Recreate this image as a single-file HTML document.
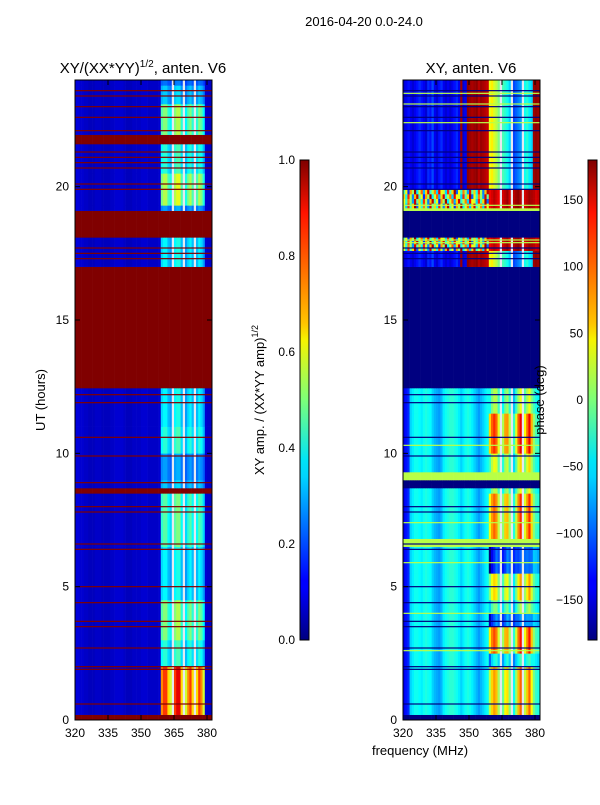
<!DOCTYPE html>
<html><head><meta charset="utf-8">
<style>
body{margin:0;background:#fff;}
svg text{font-family:"Liberation Sans","DejaVu Sans",sans-serif;fill:#000;}
</style></head>
<body>
<svg id="fig" width="600" height="800" xmlns="http://www.w3.org/2000/svg">
<defs>
<linearGradient id="jet" x1="0" y1="1" x2="0" y2="0">
<stop offset="0" stop-color="#00007f"/><stop offset="0.11" stop-color="#0000ff"/><stop offset="0.125" stop-color="#0000ff"/>
<stop offset="0.34" stop-color="#00d4ff"/><stop offset="0.375" stop-color="#00e5f6"/><stop offset="0.5" stop-color="#7cff79"/>
<stop offset="0.625" stop-color="#f6f400"/><stop offset="0.66" stop-color="#ffc400"/><stop offset="0.89" stop-color="#ff1300"/><stop offset="1" stop-color="#7f0000"/>
</linearGradient>
</defs>
<text x="364" y="26" font-size="13" text-anchor="middle">2016-04-20 0.0-24.0</text>
<g id="left"></g>
<g id="right"></g>
<g id="axes"></g>
<text x="143" y="73" font-size="15" text-anchor="middle">XY/(XX*YY)<tspan font-size="10" dy="-6">1/2</tspan><tspan dy="6">, anten. V6</tspan></text>
<text x="471" y="73" font-size="15" text-anchor="middle">XY, anten. V6</text>
<text transform="translate(45,400) rotate(-90)" font-size="13" text-anchor="middle">UT (hours)</text>
<text x="420" y="755" font-size="13" text-anchor="middle">frequency (MHz)</text>
<rect x="300" y="160" width="9" height="480" fill="url(#jet)" stroke="#000" stroke-width="1"/>
<rect x="588" y="160" width="9" height="480" fill="url(#jet)" stroke="#000" stroke-width="1"/>
<text transform="translate(264,400) rotate(-90)" font-size="13" text-anchor="middle">XY amp. / (XX*YY amp)<tspan font-size="9" dy="-6">1/2</tspan></text>
<text transform="translate(544,400) rotate(-90)" font-size="13" text-anchor="middle">phase (deg)</text>
</svg>
<script>
const NS="http://www.w3.org/2000/svg";
// ---- data ----
const freqStart=320, nFreq=62;
const colL=[0.09,0.09,0.08,0.08,0.07,0.07,0.06,0.06,0.06,0.07,0.07,0.07,0.06,0.06,0.06,0.06,0.07,0.07,0.08,0.08,0.08,0.08,0.07,0.06,0.06,0.06,0.07,0.07,0.07,0.07,0.08,0.08,0.08,0.07,0.07,0.07,0.07,0.07,0.08,
 0.5,0.55,0.55,0.45,0.4,null,0.55,0.6,0.6,0.45,null,0.4,0.5,0.55,0.45,null,0.45,0.55,0.5,0.4,0.08,0.07,0.07];
const segLStart=[0,0.2,2.0,3.0,4.5,6.5,8.5,8.7,9.0,10.0,11.0,12.45,17.0,18.1,19.1,19.3,20.5,21.6,21.95,23.1,23.8];
const segLEnd=  [0.2,2.0,3.0,4.5,6.5,8.5,8.7,9.0,10.0,11.0,12.45,17.0,18.1,19.1,19.3,20.5,21.6,21.95,23.1,23.8,24];
const segLGain= [-1,1.6,0.7,0.9,0.6,0.8,-1,0.5,0.4,0.7,0.6,-1,0.6,-1,0.4,1.0,0.7,-1,0.9,0.5,0.3];
const flagHours=[0.6,1.9,2.0,2.7,3.5,3.7,4.4,5.0,6.4,6.6,7.8,8.0,8.9,9.9,10.6,11.9,12.2,17.3,17.5,17.7,19.9,20.1,20.7,20.9,21.1,21.3,22.1,22.6,23.0,23.4,23.6];
const colR=[-140,-130,-120,-60,-50,-40,-40,-45,-50,-40,-35,-40,-45,-60,-70,-75,-80,-70,-50,-40,-35,-30,-30,-35,-40,-50,-60,-50,-40,-35,-40,-50,-60,-70,-80,-70,-60,-50,-40,
 -100,-60,-40,-30,-60,null,-80,-50,-30,-60,null,-90,-60,-40,-20,null,-50,-30,-20,-40,-40,-50,-60];
const hiMask=[0,0,0,0,0,0,0,0,0,0,0,0,0,0,0,0,0,0,0,0,0,0,0,0,0,0,0,0,0,0,0,0,0,0,0,0,0,0,0,
 1,1,1,0.8,0.6,0,0.6,0.8,0.7,0.5,0,0.4,0.6,0.9,1,0,0.6,0.8,1,0.7,0.3,0.2,0.2];
const colT=[-150,-140,-130,-140,-150,-140,-130,-120,-130,-140,-150,-120,-130,-110,-140,-150,-130,-120,-140,-150,-140,-150,-140,-130,-120,-140,170,-150,-140,175,170,165,170,175,160,170,165,160,155,
 40,50,30,20,0,null,-20,-30,-40,-60,null,-110,-100,-90,-80,null,-40,-30,-50,-60,170,175,170];
const colX=[30,-60,120,-20,60,170,-100,40,-30,90,10,-80,150,-10,60,-40,120,20,-90,70,160,-20,40,-120,80,10,170,-50,30,100,-70,60,150,-30,20,90,-60,140,40,
 140,150,160,150,140,null,150,160,170,150,null,160,170,175,160,null,150,160,170,165,160,150,155];
const segRStart=[0,0.2,2.0,2.5,3.5,4.0,4.5,5.5,6.5,6.8,8.5,8.7,9.0,9.3,10.0,11.5,12.45,17.0,17.6,18.1,19.1,19.2,19.9];
const segREnd=  [0.2,2.0,2.5,3.5,4.0,4.5,5.5,6.5,6.8,8.5,8.7,9.0,9.3,10.0,11.5,12.45,17.0,17.6,18.1,19.1,19.2,19.9,24];
const segRMode= ["B","N","N","N","N","N","N","N","G","N","N","B","G","N","N","N","B","T","X","B","G","X","T"];
const segROff=  [0,120,0,150,-60,40,100,-80,0,140,60,0,0,80,160,60,0,0,0,0,0,0,0];
const greenHours=[2.6,4.0,5.9,7.4,10.3,17.9,18.0,19.3,22.4,23.1,23.5];
const yTicks=[0,5,10,15,20];
const xTicks=[320,335,350,365,380];
const ampTicks=[0.0,0.2,0.4,0.6,0.8,1.0];
const phaseTicks=[-150,-100,-50,0,50,100,150];
// ---- scales ----
const Y0=720,Y1=80,PXH=(Y0-Y1)/24, PXF=2.2;
const yS=h=>Y0-h*PXH;
const xL=f=>75+(f-320)*PXF, xR=f=>403+(f-320)*PXF;
function jet(v){v=Math.max(0,Math.min(1,v));
 const c=t=>Math.round(255*Math.max(0,Math.min(1,1.5-Math.abs(4*v-t))));
 return `rgb(${c(3)},${c(2)},${c(1)})`;}
const ph=p=>jet((p+180)/360);
function rect(g,x,y,w,h,fill,name){const r=document.createElementNS(NS,"rect");
 r.setAttribute("x",x);r.setAttribute("y",y);r.setAttribute("width",w);r.setAttribute("height",h);r.setAttribute("fill",fill);
 
 
 g.appendChild(r);return r;}
const gL=document.getElementById("left"), gR=document.getElementById("right");
const GAP="#e4e8f0";
// left heatmap
for(let s=0;s<segLStart.length;s++){
 const y=yS(segLEnd[s]),h=yS(segLStart[s])-y;
 for(let c=0;c<nFreq;c++){const f=freqStart+c;
  let fill;
  if(segLGain[s]<0) fill=jet(1);
  else if(colL[c]===null) fill=GAP;
  else fill=jet(colL[c]<0.2?colL[c]:Math.min(0.95,0.1+(colL[c]-0.1)*segLGain[s]));
  rect(gL,xL(f),y,PXF+0.3,h+0.3,fill,"amp-cell");}
}
flagHours.forEach(hr=>rect(gL,75,yS(hr)-0.6,137,1.2,jet(1),"amp-flag-row"));
// right heatmap
for(let s=0;s<segRStart.length;s++){
 const m=segRMode[s];const sub=(m==="X")?4:1;
 const h0=segRStart[s],h1=segREnd[s];
 for(let k=0;k<sub;k++){
  const a=h0+(h1-h0)*k/sub,b=h0+(h1-h0)*(k+1)/sub;
  const y=yS(b),h=yS(a)-y;
  for(let c=0;c<nFreq;c++){const f=freqStart+c;let fill;
   if(m==="B") fill=ph(-180);
   else if(m==="G") fill=ph(20);
   else if(colR[c]===null) fill=GAP;
   else if(m==="N") fill=ph(Math.min(180,colR[c]+segROff[s]*hiMask[c]));
   else if(m==="T") fill=ph(colT[c]);
   else {const idx=c<39?(c+k*7)%39:c;fill=colX[idx]===null?GAP:ph(colX[idx]);}
   rect(gR,xR(f),y,PXF+0.3,h+0.3,fill,"phase-cell");}
 }
}
greenHours.forEach(hr=>rect(gR,403,yS(hr)-0.6,137,1.2,ph(20),"phase-green-row"));
flagHours.forEach(hr=>rect(gR,403,yS(hr)-0.6,137,1.2,ph(-180),"phase-flag-row"));
// axes
const gA=document.getElementById("axes");
function line(x1,y1,x2,y2,name){const l=document.createElementNS(NS,"line");
 l.setAttribute("x1",x1);l.setAttribute("y1",y1);l.setAttribute("x2",x2);l.setAttribute("y2",y2);l.setAttribute("stroke","#000");l.setAttribute("stroke-width","1");
 
 
 gA.appendChild(l);}
function text(x,y,s,anchor,name){const t=document.createElementNS(NS,"text");
 t.setAttribute("x",x);t.setAttribute("y",y);t.setAttribute("font-size","12");t.setAttribute("text-anchor",anchor);t.textContent=s;
 
 
 gA.appendChild(t);}
[[75,"left"],[403,"right"]].forEach(([x0,nm])=>{
 const fr=document.createElementNS(NS,"rect");
 fr.setAttribute("x",x0);fr.setAttribute("y",80);fr.setAttribute("width",137);fr.setAttribute("height",640);
 fr.setAttribute("fill","none");fr.setAttribute("stroke","#000");
 
 
 gA.appendChild(fr);
 yTicks.forEach(h=>{const y=yS(h);line(x0,y,x0+5,y,"y-tick");line(x0+137,y,x0+132,y,"y-tick");
  text(x0-6,y+4,String(h),"end","y-tick-label");});
 xTicks.forEach(f=>{const x=x0+(f-320)*PXF;line(x,720,x,715,"x-tick");line(x,80,x,85,"x-tick");
  text(x,737,String(f),"middle","x-tick-label");});
});
ampTicks.forEach(v=>{const y=640-v*480;line(300,y,304,y,"amp-colorbar-tick");line(309,y,305,y,"amp-colorbar-tick");
 text(295,y+4,v.toFixed(1),"end","amp-colorbar-tick-label");});
phaseTicks.forEach(v=>{const y=640-(v+180)/360*480;line(588,y,592,y,"phase-colorbar-tick");line(597,y,593,y,"phase-colorbar-tick");
 text(583,y+4,v<0?"\u2212"+(-v):String(v),"end","phase-colorbar-tick-label");});
</script>
</body></html>
